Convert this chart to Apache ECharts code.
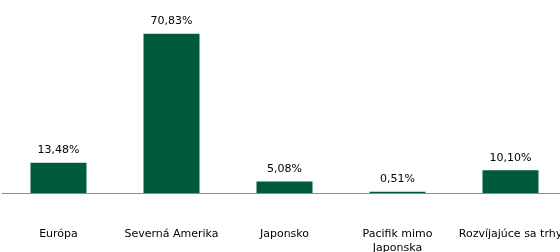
<!DOCTYPE html>
<html>
<head>
<meta charset="utf-8">
<script src="https://cdn.jsdelivr.net/npm/echarts@6/dist/echarts.min.js"></script>
<style>
html, body { margin: 0; padding: 0; background: #fff; }
#main { width: 560px; height: 252px; }
</style>
</head>
<body>
<div id="main"></div>
<script>
// regióny a ich podiely (%)
var regions = ['Európa', 'Severná Amerika', 'Japonsko', 'Pacifik mimo\nJaponska', 'Rozvíjajúce sa trhy'];
var shares = [13.48, 70.83, 5.08, 0.51, 10.10];

var dom = document.getElementById('main');
var myChart = echarts.init(dom, null, { renderer: 'canvas' });

var option = {
    animation: false,
    grid: {
        left: 2,
        top: 13,
        width: 565,
        height: 180,
        outerBoundsMode: 'none'
    },
    xAxis: {
        type: 'category',
        data: regions,
        axisLine: { lineStyle: { color: '#8c8c8c', width: 1 } },
        axisTick: { length: 4, lineStyle: { color: '#8c8c8c' } },
        axisLabel: {
            interval: 0,
            margin: 34,
            color: '#000',
            fontFamily: 'DejaVu Sans',
            fontSize: 11,
            lineHeight: 14,
            hideOverlap: false
        }
    },
    yAxis: {
        type: 'value',
        min: 0,
        max: 80,
        show: false,
        splitLine: { show: false }
    },
    series: [
        {
            type: 'bar',
            data: shares,
            barWidth: 56,
            itemStyle: { color: '#005a3c' },
            label: {
                show: true,
                position: 'top',
                distance: 7,
                color: '#000',
                fontFamily: 'DejaVu Sans',
                fontSize: 11,
                formatter: function (p) {
                    return p.value.toFixed(2).replace('.', ',') + '%';
                }
            }
        }
    ]
};

myChart.setOption(option);
window.addEventListener('resize', myChart.resize);
</script>
</body>
</html>
